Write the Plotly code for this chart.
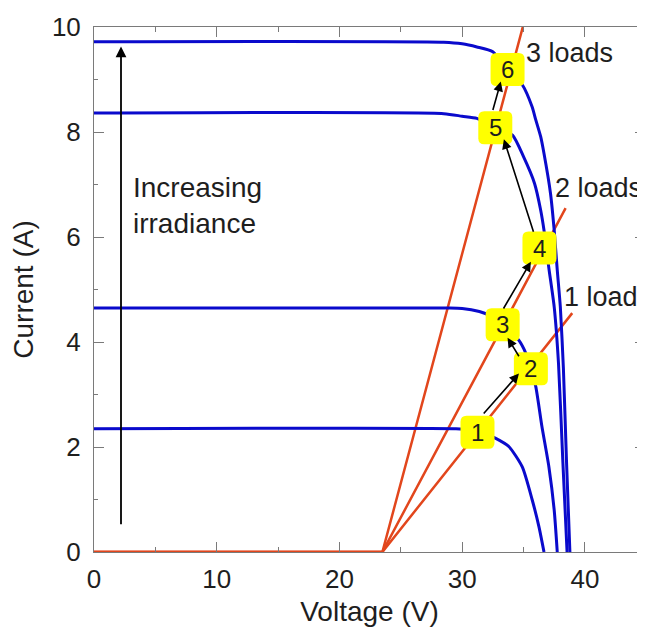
import plotly.graph_objects as go

# ---- data ----
# I-V curves (voltage V, current A) for four irradiance levels
v_c1 = [0, 29.5, 30.5, 31.25, 32.0, 32.7, 33.8, 34.9, 35.7, 36.26, 36.67]
i_c1 = [2.35, 2.35, 2.33, 2.28, 2.24, 2.17, 2.01, 1.62, 1.00, 0.48, 0.0]

v_c2 = [0, 29.0, 30.0, 31.4, 32.2, 33.3, 34.6, 35.2, 35.6, 36.0, 36.5, 37.07, 37.5, 37.75]
i_c2 = [4.65, 4.65, 4.64, 4.58, 4.51, 4.34, 4.04, 3.78, 3.49, 3.15, 2.39, 1.62, 0.80, 0.0]

v_c3 = [0, 28.5, 30.0, 31.2, 32.7, 34.1, 35.0, 35.9, 36.4, 36.67, 37.07, 37.5, 37.85, 38.2, 38.55]
i_c3 = [8.36, 8.35, 8.30, 8.26, 8.09, 7.94, 7.53, 7.02, 6.51, 6.13, 5.40, 4.67, 3.60, 1.75, 0.0]

v_c4 = [0, 28.5, 30.0, 31.2, 32.5, 33.7, 34.9, 35.7, 36.0, 36.4, 36.67, 37.2, 37.5, 37.75, 38.0, 38.25, 38.5, 38.78]
i_c4 = [9.72, 9.71, 9.68, 9.62, 9.53, 9.20, 8.90, 8.48, 8.23, 7.91, 7.59, 6.83, 6.13, 5.37, 4.67, 3.50, 1.75, 0.0]

iv_curves = [(v_c1, i_c1), (v_c2, i_c2), (v_c3, i_c3), (v_c4, i_c4)]

# load lines: zero current below the knee voltage, then linear
load_knee_v = 23.5
load_end_v = [38.97, 38.43, 35.0]
load_end_i = [4.55, 6.55, 10.05]
load_labels = ["1 load", "2 loads", "3 loads"]
load_label_v = [38.1, 37.4, 35.0]
load_label_i = [4.86, 6.93, 9.5]

# numbered operating points
box_labels = ["1", "2", "3", "4", "5", "6"]
box_v = [31.25, 35.6, 33.3, 36.3, 32.7, 33.7]
box_i = [2.28, 3.49, 4.33, 5.79, 8.08, 9.19]

# transition arrows (tail -> head)
arr_tail_v = [31.65, 34.7, 33.3, 35.85, 32.47]
arr_tail_i = [2.61, 3.70, 4.61, 6.07, 8.39]
arr_head_v = [34.63, 33.7, 35.6, 33.4, 33.15]
arr_head_i = [3.40, 4.08, 5.53, 7.86, 8.96]

# irradiance arrow
irr_v = 2.2
irr_i_start = 0.5
irr_i_end = 9.63

x_ticks = [0, 10, 20, 30, 40]
y_ticks = [0, 2, 4, 6, 8, 10]

BLUE = "#0A0ACC"
RED = "#E2461C"
TXT = "#1e1e1e"
AX = "#7a7a7a"
FONT = "Arial, Liberation Sans, sans-serif"

fig = go.Figure()

for ve, ie in zip(load_end_v, load_end_i):
    fig.add_trace(go.Scatter(x=[0, load_knee_v, ve], y=[0, 0, ie], mode="lines",
                             line=dict(color=RED, width=2.5), cliponaxis=False,
                             showlegend=False, hoverinfo="skip"))

for v, i in iv_curves:
    fig.add_trace(go.Scatter(x=v, y=i, mode="lines", line=dict(color=BLUE, width=3, shape="spline", smoothing=0.6),
                             showlegend=False, hoverinfo="skip"))

shapes = []
rr = "M -17,-10.5 Q -17,-16.5 -11,-16.5 L 11,-16.5 Q 17,-16.5 17,-10.5 L 17,10.5 Q 17,16.5 11,16.5 L -11,16.5 Q -17,16.5 -17,10.5 Z"
for bv, bi in zip(box_v, box_i):
    shapes.append(dict(type="path", xref="x", yref="y", xsizemode="pixel", ysizemode="pixel",
                       xanchor=bv, yanchor=bi, path=rr, fillcolor="#FFFF00",
                       line=dict(width=0), layer="above"))

annotations = []
for t, bv, bi in zip(box_labels, box_v, box_i):
    annotations.append(dict(x=bv, y=bi, xref="x", yref="y", text=t, showarrow=False,
                            font=dict(family=FONT, size=24, color=TXT)))

for tv, ti, hv, hi in zip(arr_tail_v, arr_tail_i, arr_head_v, arr_head_i):
    annotations.append(dict(x=hv, y=hi, ax=tv, ay=ti, xref="x", yref="y", axref="x", ayref="y",
                            text="", showarrow=True, arrowhead=2, arrowsize=1.2, arrowwidth=1.6,
                            arrowcolor="#000000", standoff=0, startstandoff=0))

annotations.append(dict(x=irr_v, y=irr_i_end, ax=irr_v, ay=irr_i_start, xref="x", yref="y",
                        axref="x", ayref="y", text="", showarrow=True, arrowhead=2,
                        arrowsize=1.2, arrowwidth=1.8, arrowcolor="#000000", standoff=0))

for lab, lv, li in zip(load_labels, load_label_v, load_label_i):
    annotations.append(dict(x=lv, y=li, xref="x", yref="y", text=lab, showarrow=False,
                            xanchor="left", yanchor="middle",
                            font=dict(family=FONT, size=27, color=TXT)))

annotations.append(dict(x=3.0, y=6.6, xref="x", yref="y", text="Increasing<br>irradiance",
                        showarrow=False, xanchor="left", yanchor="middle", align="left",
                        font=dict(family=FONT, size=28, color=TXT)))

# page body has an 8px margin, so margins are offset to land the plot area where the reference has it
fig.update_layout(
    width=645, height=641,
    margin=dict(l=86, r=8, t=19, b=97),
    paper_bgcolor="white", plot_bgcolor="white",
    shapes=shapes, annotations=annotations,
    font=dict(family=FONT, color=TXT),
    xaxis=dict(range=[0, 44.9], tickvals=x_ticks, ticks="inside", ticklen=10, tickwidth=1,
               tickcolor=AX, showline=True, linecolor=AX, linewidth=1, mirror="allticks",
               showgrid=False, zeroline=False, tickfont=dict(size=26, color=TXT), automargin=False,
               ticklabelstandoff=4,
               minor=dict(dtick=5, tick0=0, ticks="inside", ticklen=5, tickcolor=AX, showgrid=False),
               title=dict(text="Voltage (V)", font=dict(size=28, color=TXT), standoff=8)),
    yaxis=dict(range=[0, 10], tickvals=y_ticks, ticks="inside", ticklen=10, tickwidth=1,
               tickcolor=AX, showline=True, linecolor=AX, linewidth=1, mirror="allticks",
               showgrid=False, zeroline=False, tickfont=dict(size=26, color=TXT), automargin=False,
               ticklabelstandoff=7,
               minor=dict(dtick=1, tick0=0, ticks="inside", ticklen=4, tickcolor=AX, showgrid=False),
               title=dict(text="Current (A)", font=dict(size=28, color=TXT), standoff=14)),
)

fig.write_html("out.html")
